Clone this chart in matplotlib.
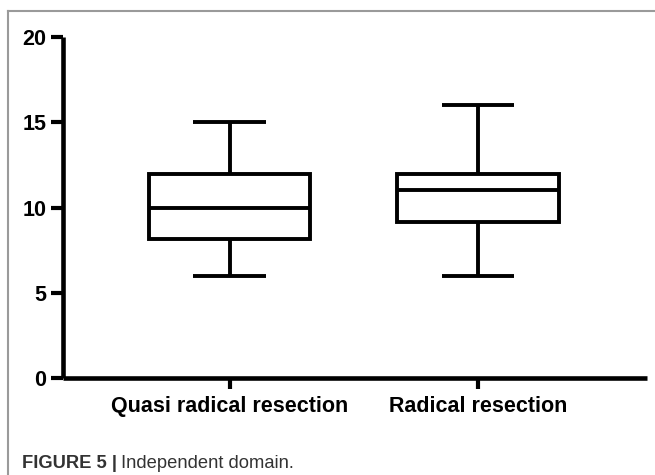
import matplotlib
matplotlib.use("Agg")
import matplotlib.pyplot as plt
from matplotlib.lines import Line2D

categories = ["Quasi radical resection", "Radical resection"]
whisker_low = [6, 6]
q1 = [8.15, 9.15]
median = [10, 11]
q3 = [11.95, 11.95]
whisker_high = [15, 16]
yticks = [0, 5, 10, 15, 20]

plt.rcParams['font.family'] = ['Liberation Sans', 'DejaVu Sans']

W, H = 655, 475
fig = plt.figure(figsize=(W / 100, H / 100), dpi=100)
ax = fig.add_axes([63 / W, (H - 378) / H, (647 - 63) / W, (378 - 37) / H])

stats = []
for i, c in enumerate(categories):
    stats.append(dict(label=c, whislo=whisker_low[i], q1=q1[i], med=median[i],
                      q3=q3[i], whishi=whisker_high[i], fliers=[]))

lw = 2.8
ax.bxp(stats, positions=[0, 1], widths=0.65, capwidths=0.29, patch_artist=True,
       showfliers=False,
       boxprops=dict(facecolor='white', edgecolor='black', linewidth=lw),
       medianprops=dict(color='black', linewidth=lw),
       whiskerprops=dict(color='black', linewidth=lw, solid_capstyle='butt'),
       capprops=dict(color='black', linewidth=lw, solid_capstyle='butt'))

ax.set_xlim(-0.67, 1.68)
ax.set_ylim(0, 20)
ax.set_yticks(yticks)
ax.set_yticklabels([str(t) for t in yticks], fontsize=15.5, fontweight='bold')
ax.set_xticks([0, 1])
ax.set_xticklabels(categories, fontsize=15.5, fontweight='bold')
for s in ['top', 'right']:
    ax.spines[s].set_visible(False)
for s in ['left', 'bottom']:
    ax.spines[s].set_linewidth(3.3)
    ax.spines[s].set_capstyle('butt')
ax.tick_params(axis='y', length=9, width=3.0, pad=3, colors='black')
ax.tick_params(axis='x', length=8, width=3.0, pad=5, colors='black')

# Frame lines
fig.add_artist(Line2D([8 / W, 1], [1 - 11 / H, 1 - 11 / H], color='#9a9a9a', lw=1.5,
                      transform=fig.transFigure))
fig.add_artist(Line2D([8 / W, 8 / W], [0, 1 - 11 / H], color='#9a9a9a', lw=1.5,
                      transform=fig.transFigure))

# Caption
cy = 1 - 463 / H
t1 = fig.text(22 / W, cy, "FIGURE 5 |", fontsize=13.2, fontweight='bold',
              color='#333333', va='center', ha='left')
fig.canvas.draw()
bb = t1.get_window_extent()
fig.text((bb.x1 + 4) / W, cy, "Independent domain.", fontsize=13.2,
         color='#333333', va='center', ha='left')

fig.savefig("out.png", dpi=100)
